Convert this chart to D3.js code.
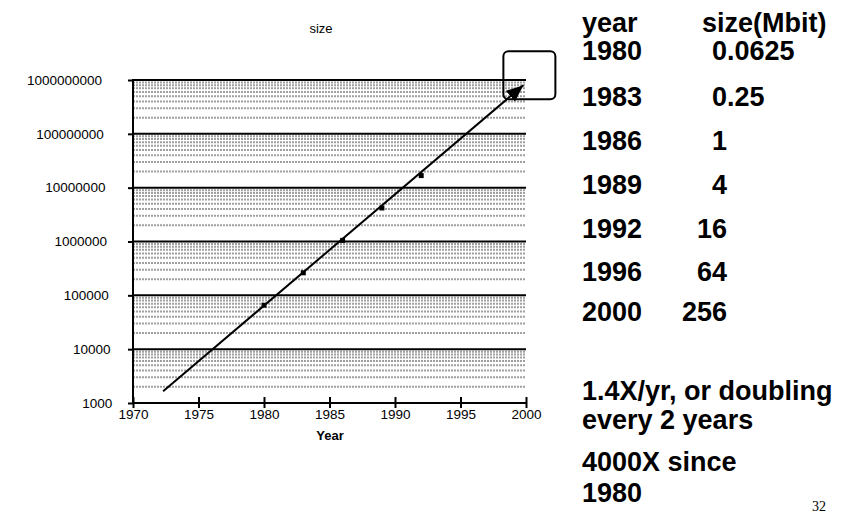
<!DOCTYPE html>
<html>
<head>
<meta charset="utf-8">
<script src="https://cdn.jsdelivr.net/npm/d3@7"></script>
<style>
  body { margin: 0; background: #fff; }
  text { font-family: "Liberation Sans", Arial, sans-serif; }
</style>
</head>
<body>
<svg width="866" height="513"></svg>
<script>
  // data
  const years = [1980, 1983, 1986, 1989, 1992];
  const sizeBits = [65536, 262144, 1048576, 4194304, 16777216];
  const trendYears = [1972.3, 1999.8];
  const trendBits = [1650, 8.0e8];
  const xTicks = [1970, 1975, 1980, 1985, 1990, 1995, 2000];
  const yTicks = [1e3, 1e4, 1e5, 1e6, 1e7, 1e8, 1e9];
  const tableYears = ['1980', '1983', '1986', '1989', '1992', '1996', '2000'];
  const tableSizes = ['0.0625', '0.25', '1', '4', '16', '64', '256'];
  const notes = ['1.4X/yr, or doubling', 'every 2 years', '4000X since', '1980'];

  const svg = d3.select('svg');
  const g = svg.append('g');

  const x = d3.scaleLinear().domain([1970, 2000]).range([133, 526]);
  const y = d3.scaleLog().domain([1e3, 1e9]).range([403, 80]);

  // minor grid (2..9 in each decade)
  const minor = yTicks.slice(0, -1).flatMap(d => d3.range(2, 10).map(m => m * d));
  g.selectAll('.minor')
    .data(minor)
    .enter().append('line')
      .attr('class', 'minor')
      .attr('x1', x(1970)).attr('x2', x(2000))
      .attr('y1', d => y(d)).attr('y2', d => y(d))
      .attr('stroke', '#a0a0a0')
      .attr('stroke-width', 2)
      .attr('stroke-dasharray', '2,1');

  // major grid
  g.selectAll('.major')
    .data(yTicks.slice(1))
    .enter().append('line')
      .attr('class', 'major')
      .attr('x1', x(1970)).attr('x2', x(2000))
      .attr('y1', d => y(d)).attr('y2', d => y(d))
      .attr('stroke', '#000')
      .attr('stroke-width', 2);

  // y axis
  const yAxis = g.append('g')
    .attr('transform', `translate(${x(1970)},0)`)
    .call(d3.axisLeft(y).tickValues(yTicks).tickSize(5).tickFormat(d3.format('d')));
  yAxis.select('.domain').remove();
  yAxis.selectAll('line').attr('stroke', '#000').attr('stroke-width', 2);
  yAxis.selectAll('text')
    .attr('x', d => -(14 + 1.7 * String(d).length))
    .attr('fill', '#000')
    .style('font-size', '13.5px');

  // x axis
  const xAxis = g.append('g')
    .attr('transform', `translate(0,${y(1e3)})`)
    .call(d3.axisBottom(x).tickValues(xTicks).tickSize(0).tickFormat(d3.format('d')));
  xAxis.select('.domain').remove();
  xAxis.selectAll('.tick line').attr('y1', -6).attr('y2', 5).attr('stroke', '#000').attr('stroke-width', 2);
  xAxis.selectAll('text')
    .attr('y', 16).attr('dy', 0)
    .attr('fill', '#000')
    .style('font-size', '13.5px');

  // axis lines
  g.append('line')
    .attr('x1', x(1970)).attr('x2', x(1970))
    .attr('y1', y(1e9) - 1).attr('y2', y(1e3))
    .attr('stroke', '#000').attr('stroke-width', 2);
  g.append('line')
    .attr('x1', x(1970)).attr('x2', x(2000))
    .attr('y1', y(1e3)).attr('y2', y(1e3))
    .attr('stroke', '#000').attr('stroke-width', 2);

  // data points
  g.selectAll('.pt')
    .data(years)
    .enter().append('rect')
      .attr('class', 'pt')
      .attr('x', d => x(d) - 2.5)
      .attr('y', (d, i) => y(sizeBits[i]) - 2.5)
      .attr('width', 5).attr('height', 5)
      .attr('fill', '#000');

  // trend arrow
  svg.append('defs').append('marker')
    .attr('id', 'head')
    .attr('markerUnits', 'userSpaceOnUse')
    .attr('markerWidth', 18).attr('markerHeight', 14)
    .attr('refX', 17).attr('refY', 7)
    .attr('orient', 'auto')
    .append('path')
      .attr('d', 'M0,0 L17,7 L0,14 Z')
      .attr('fill', '#000');

  g.append('line')
    .attr('x1', x(trendYears[0])).attr('y1', y(trendBits[0]))
    .attr('x2', x(trendYears[1])).attr('y2', y(trendBits[1]))
    .attr('stroke', '#000').attr('stroke-width', 2)
    .attr('marker-end', 'url(#head)');

  // highlight box round the arrow tip
  const tipX = x(trendYears[1]), tipY = y(trendBits[1]);
  g.append('rect')
    .attr('x', tipX - 20).attr('y', tipY - 34)
    .attr('width', 52).attr('height', 48)
    .attr('rx', 5)
    .attr('fill', 'none').attr('stroke', '#000').attr('stroke-width', 2);

  // titles
  svg.append('text')
    .attr('x', 321).attr('y', 33)
    .attr('text-anchor', 'middle')
    .style('font-size', '13px')
    .text('size');

  svg.append('text')
    .attr('x', 330).attr('y', 440)
    .attr('text-anchor', 'middle')
    .style('font-size', '13px').style('font-weight', 'bold')
    .text('Year');

  // table on the right
  const tbl = svg.append('g').style('font-size', '27px').style('font-weight', 'bold');
  tbl.append('text').attr('x', 582).attr('y', 32).text('year');
  tbl.append('text').attr('x', 702).attr('y', 32).text('size(Mbit)');
  const rowY = [60, 106, 150, 194, 238, 281, 321];
  tbl.selectAll('.yr')
    .data(tableYears)
    .enter().append('text')
      .attr('x', 582).attr('y', (d, i) => rowY[i])
      .text(d => d);
  tbl.selectAll('.sz')
    .data(tableSizes)
    .enter().append('text')
      .attr('x', (d, i) => i < 3 ? 712 : 727)
      .attr('y', (d, i) => rowY[i])
      .attr('text-anchor', (d, i) => i < 3 ? 'start' : 'end')
      .text(d => d);

  const noteY = [400, 429, 471, 502];
  tbl.selectAll('.note')
    .data(notes)
    .enter().append('text')
      .attr('x', 582).attr('y', (d, i) => noteY[i])
      .text(d => d);

  // page number
  svg.append('text')
    .attr('x', 812).attr('y', 511)
    .style('font-family', '"Liberation Serif", "Times New Roman", serif')
    .style('font-size', '14px')
    .text('32');
</script>
</body>
</html>
